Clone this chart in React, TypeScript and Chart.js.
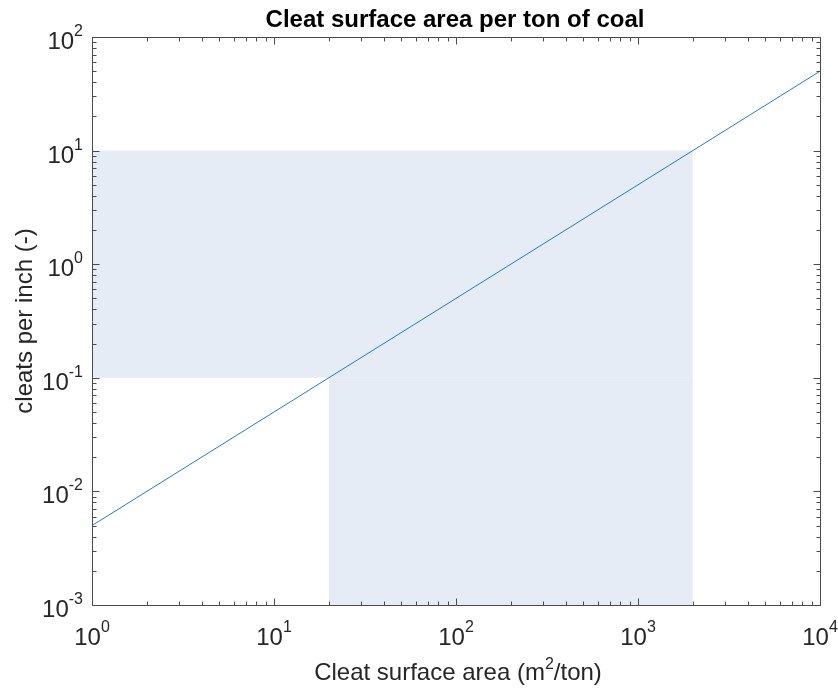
import React, { useEffect, useRef } from 'react';
import { Chart, registerables } from 'chart.js';

Chart.register(...registerables);

// ---- text ----
const titleText = 'Cleat surface area per ton of coal';
const xLabelMain = 'Cleat surface area (m';
const xLabelSup = '2';
const xLabelEnd = '/ton)';
const yLabelText = 'cleats per inch (-)';

// ---- axes ----
const xMin = 1;
const xMax = 10000;
const yMin = 0.001;
const yMax = 100;
const xTicks = [1, 10, 100, 1000, 10000];
const yTicks = [0.001, 0.01, 0.1, 1, 10, 100];

// ---- series ----
const lineX = [1, 10000];
const lineY = [0.005, 50];

// shaded region (two rectangles)
const bandUpperX = [1, 2000];
const bandUpperTop = 10;
const bandUpperBottom = 0.1;
const bandLowerX = [20, 2000];
const bandLowerTop = 0.1;
const bandLowerBottom = 0.001;

const FONT = '"Liberation Sans", Arial, Helvetica, sans-serif';
const TEXT_COLOR = '#262626';
const AXIS_COLOR = '#4a4a4a';
const FILL_COLOR = '#e6ecf6';
const LINE_COLOR = 'rgb(30,125,200)';

function minorValues(min: number, max: number): number[] {
  const out: number[] = [];
  const k0 = Math.floor(Math.log10(min));
  const k1 = Math.ceil(Math.log10(max));
  for (let k = k0; k < k1; k++) {
    for (let d = 2; d <= 9; d++) {
      const v = d * Math.pow(10, k);
      if (v > min && v < max) out.push(v);
    }
  }
  return out;
}

function expOf(v: number): string {
  const e = Math.round(Math.log10(v));
  return String(e);
}

const decorPlugin = {
  id: 'decor',
  afterDraw(chart: any) {
    const { ctx, chartArea: a, scales } = chart;
    const xs = scales.x;
    const ys = scales.y;
    const L = Math.round(a.left) + 0.5;
    const R = Math.round(a.right) + 0.5;
    const T = Math.round(a.top) + 0.5;
    const B = Math.round(a.bottom) + 0.5;
    ctx.save();
    ctx.strokeStyle = AXIS_COLOR;
    ctx.lineWidth = 1;
    ctx.beginPath();
    ctx.rect(L, T, R - L, B - T);
    ctx.stroke();

    const major = 7;
    const minor = 4;
    ctx.beginPath();
    const xTick = (v: number, len: number) => {
      const px = Math.round(xs.getPixelForValue(v)) + 0.5;
      ctx.moveTo(px, B);
      ctx.lineTo(px, B - len);
      ctx.moveTo(px, T);
      ctx.lineTo(px, T + len);
    };
    const yTick = (v: number, len: number) => {
      const py = Math.round(ys.getPixelForValue(v)) + 0.5;
      ctx.moveTo(L, py);
      ctx.lineTo(L + len, py);
      ctx.moveTo(R, py);
      ctx.lineTo(R - len, py);
    };
    xTicks.forEach((v) => xTick(v, major));
    minorValues(xMin, xMax).forEach((v) => xTick(v, minor));
    yTicks.forEach((v) => yTick(v, major));
    minorValues(yMin, yMax).forEach((v) => yTick(v, minor));
    ctx.stroke();

    // tick labels
    const mainFont = `24px ${FONT}`;
    const supFont = `16px ${FONT}`;
    ctx.fillStyle = TEXT_COLOR;
    ctx.textBaseline = 'alphabetic';
    ctx.textAlign = 'left';
    const drawPow = (exp: string, x: number, baseY: number, align: 'center' | 'right') => {
      ctx.font = mainFont;
      const w1 = ctx.measureText('10').width;
      ctx.font = supFont;
      const w2 = ctx.measureText(exp).width;
      const total = w1 + w2;
      const sx = align === 'center' ? x - total / 2 : x - total;
      ctx.font = mainFont;
      ctx.fillText('10', sx, baseY);
      ctx.font = supFont;
      ctx.fillText(exp, sx + w1, baseY - 13);
    };
    xTicks.forEach((v) => {
      drawPow(expOf(v), xs.getPixelForValue(v), a.bottom + 40, 'center');
    });
    yTicks.forEach((v) => {
      drawPow(expOf(v), a.left - 9, ys.getPixelForValue(v) + 12, 'right');
    });

    // title
    const cx = (a.left + a.right) / 2;
    ctx.fillStyle = '#000000';
    ctx.font = `bold 24px ${FONT}`;
    ctx.textAlign = 'center';
    ctx.fillText(titleText, cx - 1, 27);

    // x label
    ctx.fillStyle = TEXT_COLOR;
    ctx.textAlign = 'left';
    const lf = `24px ${FONT}`;
    const sf = `16px ${FONT}`;
    ctx.font = lf;
    const wA = ctx.measureText(xLabelMain).width;
    const wC = ctx.measureText(xLabelEnd).width;
    ctx.font = sf;
    const wB = ctx.measureText(xLabelSup).width;
    const tot = wA + wB + wC;
    let sx = cx + 2 - tot / 2;
    const by = 680;
    ctx.font = lf;
    ctx.fillText(xLabelMain, sx, by);
    sx += wA;
    ctx.font = sf;
    ctx.fillText(xLabelSup, sx, by - 11);
    sx += wB;
    ctx.font = lf;
    ctx.fillText(xLabelEnd, sx, by);

    // y label
    ctx.save();
    ctx.translate(25, (a.top + a.bottom) / 2);
    ctx.rotate(-Math.PI / 2);
    ctx.textAlign = 'center';
    ctx.textBaseline = 'middle';
    ctx.font = lf;
    ctx.fillText(yLabelText, 0, 0);
    ctx.restore();

    ctx.restore();
  },
};

export default function App() {
  const ref = useRef<HTMLCanvasElement | null>(null);
  useEffect(() => {
    if (!ref.current) return;
    const chart = new Chart(ref.current, {
      type: 'line',
      data: {
        datasets: [
          {
            label: 'line',
            data: lineX.map((x, i) => ({ x, y: lineY[i] })),
            borderColor: LINE_COLOR,
            borderWidth: 1,
            pointRadius: 0,
            fill: false,
            order: 0,
          },
          {
            label: 'upper band',
            data: bandUpperX.map((x) => ({ x, y: bandUpperTop })),
            borderWidth: 0,
            borderColor: 'rgba(0,0,0,0)',
            backgroundColor: FILL_COLOR,
            pointRadius: 0,
            fill: { value: bandUpperBottom },
            order: 1,
          },
          {
            label: 'lower band',
            data: bandLowerX.map((x) => ({ x, y: bandLowerTop })),
            borderWidth: 0,
            borderColor: 'rgba(0,0,0,0)',
            backgroundColor: FILL_COLOR,
            pointRadius: 0,
            fill: { value: bandLowerBottom },
            order: 2,
          },
        ],
      },
      options: {
        animation: false,
        responsive: false,
        devicePixelRatio: 1,
        layout: { padding: { left: 92, right: 18, top: 37, bottom: 85 } },
        plugins: {
          legend: { display: false },
          tooltip: { enabled: false },
          title: { display: false },
        },
        scales: {
          x: { type: 'logarithmic', min: xMin, max: xMax, display: false },
          y: { type: 'logarithmic', min: yMin, max: yMax, display: false },
        },
      },
      plugins: [decorPlugin],
    } as any);
    return () => chart.destroy();
  }, []);
  return (
    <div style={{ position: 'absolute', left: 0, top: 0, width: 838, height: 690, background: '#fff' }}>
      <canvas ref={ref} width={838} height={690} />
    </div>
  );
}
